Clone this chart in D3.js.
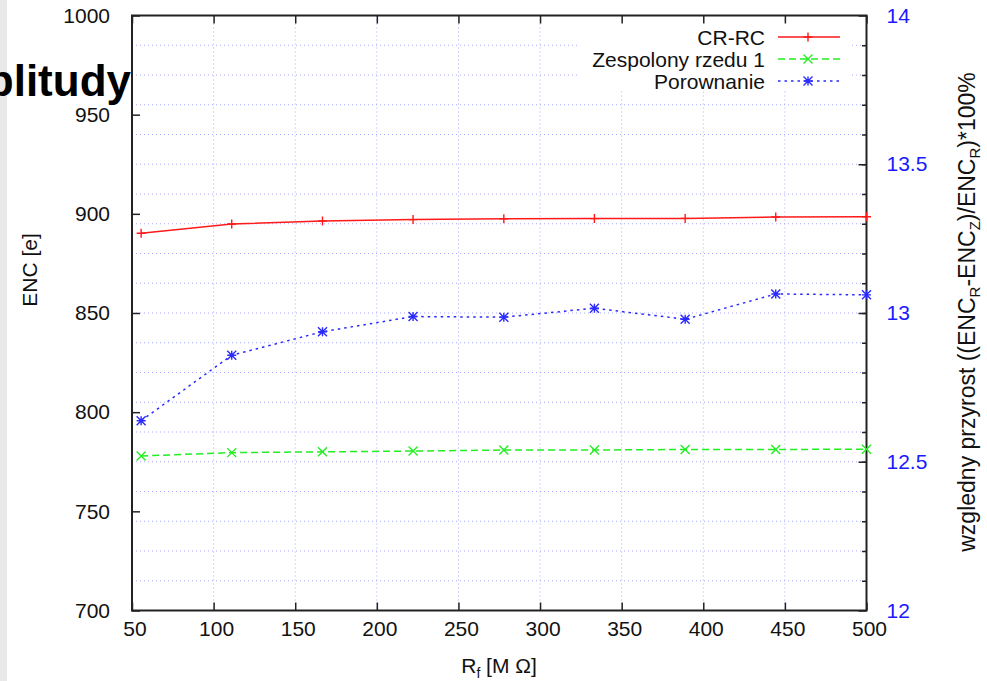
<!DOCTYPE html>
<html>
<head>
<meta charset="utf-8">
<script src="https://cdn.jsdelivr.net/npm/d3@7"></script>
<style>
  html, body { margin: 0; padding: 0; background: #ffffff; }
  svg { display: block; }
  text { font-family: "Liberation Sans", Arial, Helvetica, sans-serif; }
</style>
</head>
<body>
<script>
// ---- data ----
const xValues = [55.6, 111.1, 166.7, 222.2, 277.8, 333.3, 388.9, 444.4, 500];
const crrc = [890.2, 894.9, 896.4, 897.1, 897.5, 897.6, 897.7, 898.4, 898.5];
const zespolony = [777.9, 779.6, 780.0, 780.4, 780.9, 780.9, 781.2, 781.2, 781.3];
const porownanie = [12.638, 12.858, 12.937, 12.988, 12.986, 13.016, 12.979, 13.064, 13.061];
const xTicks = [50, 100, 150, 200, 250, 300, 350, 400, 450, 500];
const yTicks = [700, 750, 800, 850, 900, 950, 1000];
const y2Ticks = [12, 12.5, 13, 13.5, 14];
const y2MinorTicks = [12.1, 12.2, 12.3, 12.4, 12.5, 12.6, 12.7, 12.8, 12.9, 13.0, 13.1, 13.2, 13.3, 13.4, 13.5, 13.6, 13.7, 13.8, 13.9];
const seriesNames = ["CR-RC", "Zespolony rzedu 1", "Porownanie"];

(function () {
const W = 987, H = 681;
const pL = 132, pR = 866.5, pT = 15.5, pB = 610.5;
const FS = 21;

const svg = d3.select("body").append("svg").attr("width", W).attr("height", H);

// left grey strip (slide background)
svg.append("rect").attr("x", 0).attr("y", 0).attr("width", 7).attr("height", H).attr("fill", "#e9e9e9");

const x = d3.scaleLinear().domain([50, 500]).range([pL, pR]);
const y = d3.scaleLinear().domain([700, 1000]).range([pB, pT]);
const y2 = d3.scaleLinear().domain([12, 14]).range([pB, pT]);

const gridColor = "#a9a9ff";
const grid = svg.append("g");
grid.selectAll("line.h").data(y2MinorTicks).enter().append("line")
  .attr("x1", pL).attr("x2", pR)
  .attr("y1", d => y2(d)).attr("y2", d => y2(d))
  .attr("stroke", gridColor).attr("stroke-width", 1).attr("stroke-dasharray", "1,3");
grid.selectAll("line.v").data(xTicks.slice(1, -1)).enter().append("line")
  .attr("x1", d => x(d)).attr("x2", d => x(d))
  .attr("y1", pT).attr("y2", pB)
  .attr("stroke", gridColor).attr("stroke-width", 1).attr("stroke-dasharray", "1,3");

// legend background box (clears grid)
svg.append("rect").attr("x", 578).attr("y", 23).attr("width", 274).attr("height", 68).attr("fill", "#ffffff");

function styleAxis(g) {
  g.select(".domain").remove();
  g.selectAll(".tick line").attr("stroke", "#222").attr("stroke-width", 1.5);
  g.selectAll(".tick text").attr("font-size", FS).attr("fill", "#111");
}
const xAxis = svg.append("g").attr("transform", `translate(0,${pB})`)
  .call(d3.axisBottom(x).tickValues(xTicks).tickSizeInner(-8).tickSizeOuter(0).tickPadding(14).tickFormat(d3.format("d")));
styleAxis(xAxis);
xAxis.selectAll(".tick text").attr("dx", 2.5).attr("dy", "0.55em");

const xAxisTop = svg.append("g").attr("transform", `translate(0,${pT})`)
  .call(d3.axisTop(x).tickValues(xTicks).tickSizeInner(-8).tickSizeOuter(0).tickFormat(""));
styleAxis(xAxisTop);

const yAxis = svg.append("g").attr("transform", `translate(${pL},0)`)
  .call(d3.axisLeft(y).tickValues(yTicks).tickSizeInner(-8).tickSizeOuter(0).tickPadding(22).tickFormat(d3.format("d")));
styleAxis(yAxis);

const y2AxisMinor = svg.append("g").attr("transform", `translate(${pR},0)`)
  .call(d3.axisRight(y2).tickValues(y2MinorTicks).tickSizeInner(-4.5).tickSizeOuter(0).tickFormat(""));
styleAxis(y2AxisMinor);
const y2Axis = svg.append("g").attr("transform", `translate(${pR},0)`)
  .call(d3.axisRight(y2).tickValues(y2Ticks).tickSizeInner(-8).tickSizeOuter(0).tickPadding(20).tickFormat(d => String(d)));
styleAxis(y2Axis);
y2Axis.selectAll(".tick text").attr("fill", "#1a1aff");

// border
svg.append("rect").attr("x", pL).attr("y", pT).attr("width", pR - pL).attr("height", pB - pT)
  .attr("fill", "none").attr("stroke", "#222").attr("stroke-width", 2);

const series = [
  { name: seriesNames[0], values: crrc, scale: y, color: "#ff1a1a", dash: null, marker: "plus" },
  { name: seriesNames[1], values: zespolony, scale: y, color: "#22ee22", dash: "7,4", marker: "cross" },
  { name: seriesNames[2], values: porownanie, scale: y2, color: "#2a2aff", dash: "2.5,4", marker: "star" }
];

function drawMarker(g, type, cx, cy, color) {
  const s = 4.5;
  const paths = [];
  if (type === "plus" || type === "star") {
    paths.push(`M${cx - s},${cy}L${cx + s},${cy}M${cx},${cy - s}L${cx},${cy + s}`);
  }
  if (type === "cross" || type === "star") {
    paths.push(`M${cx - s},${cy - s}L${cx + s},${cy + s}M${cx - s},${cy + s}L${cx + s},${cy - s}`);
  }
  g.append("path").attr("d", paths.join("")).attr("stroke", color).attr("stroke-width", 1.4).attr("fill", "none");
}

series.forEach(s => {
  const line = d3.line().x((d, i) => x(xValues[i])).y(d => s.scale(d));
  svg.append("path").datum(s.values).attr("d", line)
    .attr("fill", "none").attr("stroke", s.color).attr("stroke-width", 1.5)
    .attr("stroke-dasharray", s.dash);
  const mg = svg.append("g");
  s.values.forEach((v, i) => drawMarker(mg, s.marker, x(xValues[i]), s.scale(v), s.color));
});

// legend
const legendY = [37, 59, 81];
series.forEach((s, i) => {
  const ly = legendY[i];
  svg.append("text").attr("x", 765).attr("y", ly).attr("dy", "0.36em").attr("text-anchor", "end")
    .attr("font-size", FS).attr("fill", "#111").text(s.name);
  svg.append("line").attr("x1", 778).attr("x2", 840).attr("y1", ly).attr("y2", ly)
    .attr("stroke", s.color).attr("stroke-width", 1.5).attr("stroke-dasharray", s.dash);
  drawMarker(svg, s.marker, 808, ly, s.color);
});

// axis titles
const xt = svg.append("text").attr("x", 499).attr("y", 673).attr("text-anchor", "middle")
  .attr("font-size", FS).attr("fill", "#111");
xt.append("tspan").text("R");
xt.append("tspan").attr("font-size", 14).attr("dy", 5).text("f");
xt.append("tspan").attr("dy", -5).text(" [M Ω]");

svg.append("text").attr("transform", "translate(37,270) rotate(-90)").attr("text-anchor", "middle")
  .attr("font-size", FS).attr("fill", "#111").text("ENC [e]");

const yt = svg.append("text").attr("transform", "translate(975,312) rotate(-90)").attr("text-anchor", "middle")
  .attr("font-size", 23).attr("fill", "#111");
yt.append("tspan").text("wzgledny przyrost ((ENC");
yt.append("tspan").attr("font-size", 15).attr("dy", 5).text("R");
yt.append("tspan").attr("dy", -5).text("-ENC");
yt.append("tspan").attr("font-size", 15).attr("dy", 5).text("Z");
yt.append("tspan").attr("dy", -5).text(")/ENC");
yt.append("tspan").attr("font-size", 15).attr("dy", 5).text("R");
yt.append("tspan").attr("dy", -5).text(")*100%");

// slide title fragment
svg.append("text").attr("x", 131).attr("y", 96).attr("text-anchor", "end")
  .attr("font-size", 44).attr("font-weight", "bold").attr("fill", "#000").text("plitudy");
})();
</script>
</body>
</html>
